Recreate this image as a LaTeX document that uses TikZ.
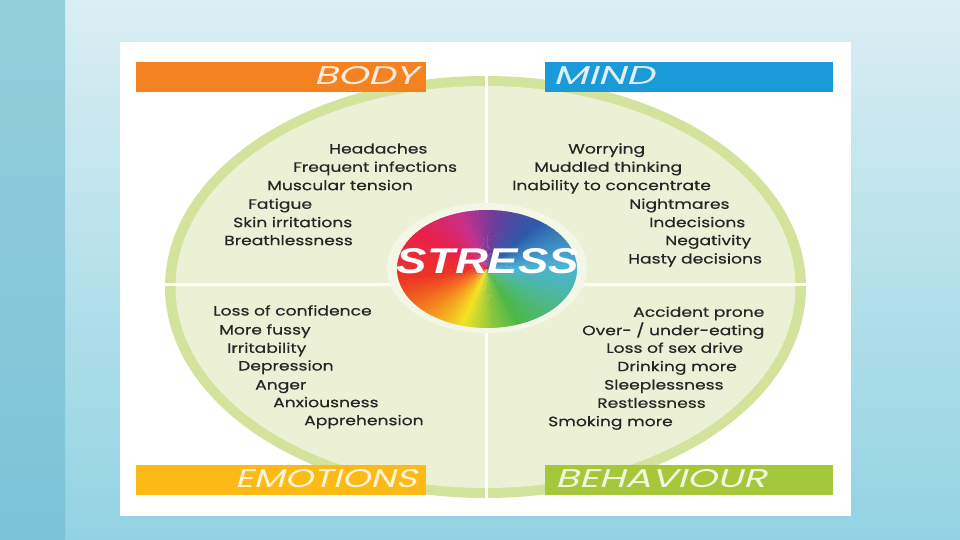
\documentclass[tikz,border=0pt]{standalone}
\usepackage{fontspec}
\usepackage{graphicx}
\newfontfamily\itemfont{Poppins}[FakeStretch=1.27, FakeBold=0.5]
\newfontfamily\hdrfont{Poppins}[AutoFakeSlant=0.2]
\newfontfamily\stressfont{Liberation Sans}
\definecolor{bgtop}{HTML}{DAEEF2}
\definecolor{bgbot}{HTML}{92D3E3}
\definecolor{striptop}{HTML}{93CEDB}
\definecolor{stripbot}{HTML}{7CC3D8}
\definecolor{band}{HTML}{D4E39C}
\definecolor{inner}{HTML}{ECF1D5}
\definecolor{halo}{HTML}{F4F7E6}
\definecolor{bodyc}{HTML}{F58220}
\definecolor{mindc}{HTML}{1B9AD8}
\definecolor{emoc}{HTML}{FBBA16}
\definecolor{behc}{HTML}{A5C83A}
\definecolor{ink}{HTML}{262626}
% wheel key colours
\definecolor{k0}{HTML}{4AB4D6}
\definecolor{k1}{HTML}{2D5BAA}
\definecolor{k2}{HTML}{6A3D9A}
\definecolor{k3}{HTML}{C8308C}
\definecolor{k4}{HTML}{E8204A}
\definecolor{k5}{HTML}{EC3424}
\definecolor{k6}{HTML}{F58A1F}
\definecolor{k7}{HTML}{F2E423}
\definecolor{k8}{HTML}{8CC63F}
\definecolor{k9}{HTML}{4DB848}
\definecolor{k10}{HTML}{4DB88A}
\tikzset{
  itm/.style={anchor=west, inner sep=0pt, text height=9pt, text depth=0pt, text=ink, font=\itemfont\fontsize{13.5}{13.5}\selectfont},
  hdrtxt/.style={inner sep=0pt, text=white, text opacity=0.85},
}
\begin{document}
\begin{tikzpicture}[x=1pt,y=-1pt]
\useasboundingbox (0,0) rectangle (960,540);
% background
\shade[top color=bgtop, bottom color=bgbot] (0,0) rectangle (960,540);
\shade[top color=striptop, bottom color=stripbot] (0,0) rectangle (65,540);
% white panel
\fill[white] (120,42) rectangle (851,516);
% ellipse
\fill[band] (485.5,287) ellipse [x radius=320.5, y radius=211];
\fill[inner] (485.5,287) ellipse [x radius=310, y radius=201];
% dividers
\draw[white, line width=3pt] (486,76) -- (486,498);
\draw[white, line width=3pt] (165,284.5) -- (806,284.5);
% halo
\fill[halo] (487,268) ellipse [x radius=100, y radius=65];
% colour wheel
\begin{scope}
\clip (487,269) ellipse [x radius=90, y radius=59];
\foreach \s/\e/\ca/\cb in {0/40/k0/k1, 40/80/k1/k2, 80/115/k2/k3, 115/150/k3/k4, 150/185/k4/k5, 185/215/k5/k6, 215/245/k6/k7, 245/275/k7/k8, 275/300/k8/k9, 300/330/k9/k10, 330/360/k10/k0}{
  \foreach \i in {0,...,11}{
    \pgfmathsetmacro\angA{\s+(\e-\s)*\i/12}
    \pgfmathsetmacro\angB{\s+(\e-\s)*(\i+1)/12+0.6}
    \pgfmathsetmacro\pct{100*\i/12}
    \colorlet{wc}{\cb!\pct!\ca}
    \fill[wc] (487,269) -- +({-\angA}:130) -- +({-\angB}:130) -- cycle;
  }
}
\end{scope}
\node[inner sep=0pt, text=white] (stress) at (488,261.5)
  {\resizebox{182pt}{25pt}{\stressfont\bfseries\itshape STRESS}};
% header bars
\fill[bodyc] (136,62) rectangle (426,92);
\fill[mindc] (545,62) rectangle (833,92);
\fill[emoc] (136,465) rectangle (426,495);
\fill[behc] (545,465) rectangle (833,495);
\node[hdrtxt, anchor=south east] (body) at (418,85) {\resizebox{104pt}{18pt}{\hdrfont\itshape BODY}};
\node[hdrtxt, anchor=south west] (mind) at (553,85) {\resizebox{101pt}{18pt}{\hdrfont\itshape MIND}};
\node[hdrtxt, anchor=south east] (emo) at (417,488) {\resizebox{182pt}{18pt}{\hdrfont\itshape EMOTIONS}};
\node[hdrtxt, anchor=south west] (beh) at (555,488) {\resizebox{211pt}{18pt}{\hdrfont\itshape BEHAVIOUR}};
% body items
\node[itm] (b1) at (329,149) {Headaches};
\node[itm] (b2) at (293,167.3) {Frequent infections};
\node[itm] (b3) at (267,185.7) {Muscular tension};
\node[itm] (b4) at (248,204.3) {Fatigue};
\node[itm] (b5) at (233,222.7) {Skin irritations};
\node[itm] (b6) at (224,240.7) {Breathlessness};
% mind items
\node[itm] (m1) at (568,149) {Worrying};
\node[itm] (m2) at (534,167.3) {Muddled thinking};
\node[itm] (m3) at (512,185.7) {Inability to concentrate};
\node[itm] (m4) at (629,204.3) {Nightmares};
\node[itm] (m5) at (649,222.7) {Indecisions};
\node[itm] (m6) at (665,240.7) {Negativity};
\node[itm] (m7) at (628,259) {Hasty decisions};
% emotions items
\node[itm] (e1) at (213,311) {Loss of confidence};
\node[itm] (e2) at (219,330) {More fussy};
\node[itm] (e3) at (227,348.3) {Irritability};
\node[itm] (e4) at (238,366) {Depression};
\node[itm] (e5) at (255,385) {Anger};
\node[itm] (e6) at (273,402.7) {Anxiousness};
\node[itm] (e7) at (304,420.7) {Apprehension};
% behaviour items
\node[itm] (h1) at (633,312.3) {Accident prone};
\node[itm] (h2) at (582,330.7) {Over- / under-eating};
\node[itm] (h3) at (606,348.3) {Loss of sex drive};
\node[itm] (h4) at (617,366.7) {Drinking more};
\node[itm] (h5) at (604,385) {Sleeplessness};
\node[itm] (h6) at (597,403.3) {Restlessness};
\node[itm] (h7) at (548,421.7) {Smoking more};
\end{tikzpicture}
\end{document}
